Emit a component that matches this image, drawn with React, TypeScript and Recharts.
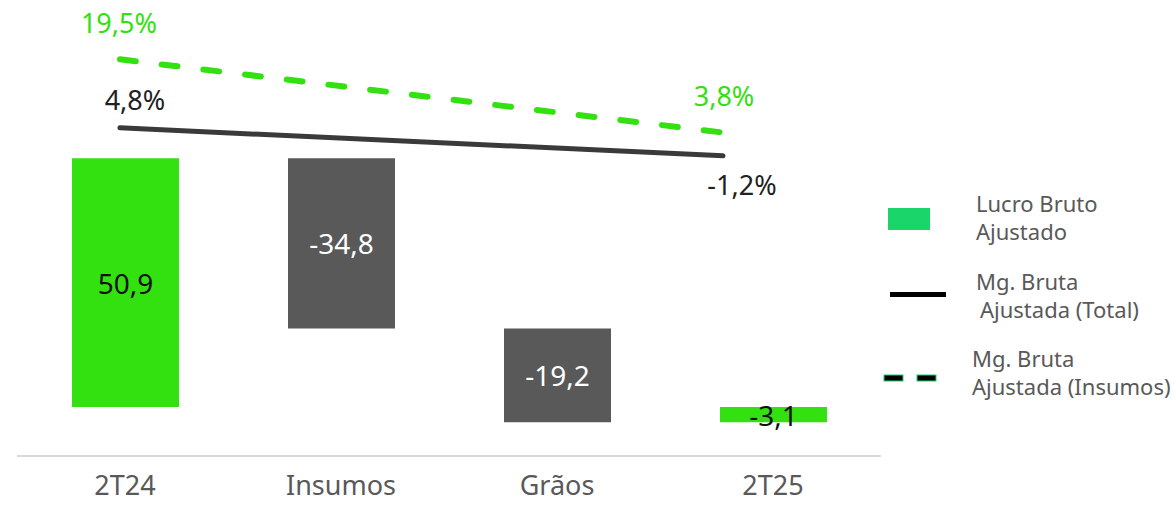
import { ComposedChart, Bar, Line, XAxis, YAxis, Cell, LabelList } from 'recharts';

// Ponte do lucro bruto ajustado (R$ mi) e margens (%)
const categories = ['2T24', 'Insumos', 'Grãos', '2T25'];
const barStart = [0, 50.9, 16.1, 0];
const barEnd = [50.9, 16.1, -3.1, -3.1];
const barLabels = ['50,9', '-34,8', '-19,2', '-3,1'];
const barKinds = ['total', 'delta', 'delta', 'total'];
const linePos = [0, 1, 2, 3];
const mgTotal = [4.8, null, null, -1.2];
const mgTotalLabels = ['4,8%', '', '', '-1,2%'];
const mgInsumos = [19.5, null, null, 3.8];
const mgInsumosLabels = ['19,5%', '', '', '3,8%'];

const data = categories.map((name, i) => ({
  name,
  range: [Math.min(barStart[i], barEnd[i]), Math.max(barStart[i], barEnd[i])],
  label: barLabels[i],
  kind: barKinds[i],
  pos: linePos[i],
  mgTotal: mgTotal[i],
  mgInsumos: mgInsumos[i],
}));

const FONT = '"Noto Sans", sans-serif';
const GREEN = '#33E010';
const GREY = '#595959';
const DARK = '#3a3a3a';

const BarValueLabel = (props: any) => {
  const { x, y, width, height, index } = props;
  const d = data[index];
  return (
    <text
      x={x + width / 2}
      y={y + height / 2}
      textAnchor="middle"
      dominantBaseline="central"
      fontFamily={FONT}
      fontSize={28}
      fill={d.kind === 'total' ? '#111' : '#fff'}
    >
      {d.label}
    </text>
  );
};

const makeLineLabel = (labels: string[], color: string, offsets: { dx: number; dy: number }[]) =>
  (props: any) => {
    const { x, y, index } = props;
    if (!labels[index]) return null;
    const o = offsets[index];
    return (
      <text
        x={x + o.dx}
        y={y + o.dy}
        textAnchor="middle"
        dominantBaseline="central"
        fontFamily={FONT}
        fontSize={27}
        fill={color}
      >
        {labels[index]}
      </text>
    );
  };

const zero = { dx: 0, dy: 0 };
const TotalLabel = makeLineLabel(mgTotalLabels, '#222', [{ dx: 15, dy: -28 }, zero, zero, { dx: 19, dy: 29 }]);
const InsumosLabel = makeLineLabel(mgInsumosLabels, GREEN, [{ dx: -1, dy: -37 }, zero, zero, { dx: 1, dy: -37 }]);

function Legend() {
  const t = { fontFamily: FONT, fontSize: 22, fill: GREY };
  return (
    <svg width={1176} height={507} style={{ position: 'absolute', left: 0, top: 0, pointerEvents: 'none' }}>
      <rect x={888} y={208} width={42} height={22} fill="#1AD66A" />
      <text x={976} y={212} {...t}>Lucro Bruto</text>
      <text x={976} y={240} {...t}>Ajustado</text>

      <rect x={890} y={292} width={56} height={5} fill="#000" />
      <text x={976} y={290} {...t}>Mg. Bruta</text>
      <text x={980} y={318} {...t}>Ajustada (Total)</text>

      <rect x={884} y={375} width={19} height={6} fill="#000" stroke="#1AD66A" strokeWidth={1} />
      <rect x={917} y={375} width={19} height={6} fill="#000" stroke="#1AD66A" strokeWidth={1} />
      <text x={972} y={367} {...t}>Mg. Bruta</text>
      <text x={972} y={395} {...t}>Ajustada (Insumos)</text>
    </svg>
  );
}

export default function App() {
  return (
    <div style={{ position: 'absolute', left: 0, top: 0, width: 1176, height: 507, background: '#fff' }}>
      <ComposedChart
        width={1176}
        height={507}
        data={data}
        margin={{ top: 16, right: 295, bottom: 0, left: 17 }}
      >
        <XAxis
          xAxisId="cat"
          dataKey="name"
          height={51}
          axisLine={{ stroke: '#d9d9d9', strokeWidth: 2 }}
          tickLine={false}
          tickSize={0}
          tickMargin={20}
          tick={{ fontFamily: FONT, fontSize: 27, fill: GREY }}
          interval={0}
        />
        <XAxis xAxisId="num" dataKey="pos" type="number" domain={[-0.512, 3.786]} hide height={51} />
        <YAxis yAxisId="v" domain={[-10, 80]} hide />
        <YAxis yAxisId="p" domain={[-65.6, 28.8]} hide />
        <Bar xAxisId="cat" yAxisId="v" dataKey="range" barSize={107} isAnimationActive={false}>
          {data.map((d) => (
            <Cell key={d.name} fill={d.kind === 'total' ? GREEN : GREY} />
          ))}
          <LabelList dataKey="label" content={BarValueLabel} />
        </Bar>
        <Line
          xAxisId="num"
          yAxisId="p"
          dataKey="mgTotal"
          stroke={DARK}
          strokeWidth={5}
          strokeLinecap="round"
          dot={false}
          activeDot={false}
          connectNulls
          isAnimationActive={false}
        >
          <LabelList dataKey="mgTotal" content={TotalLabel} />
        </Line>
        <Line
          xAxisId="num"
          yAxisId="p"
          dataKey="mgInsumos"
          stroke={GREEN}
          strokeWidth={6}
          strokeDasharray="16 26"
          strokeLinecap="round"
          dot={false}
          activeDot={false}
          connectNulls
          isAnimationActive={false}
        >
          <LabelList dataKey="mgInsumos" content={InsumosLabel} />
        </Line>
      </ComposedChart>
      <Legend />
    </div>
  );
}
